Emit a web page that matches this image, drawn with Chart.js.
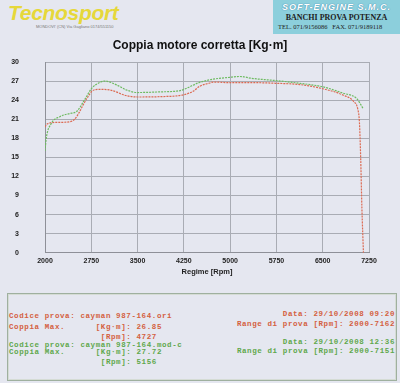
<!DOCTYPE html>
<html><head><meta charset="utf-8">
<script src="https://cdn.jsdelivr.net/npm/chart.js@4/dist/chart.umd.min.js"></script>
<style>
html,body{margin:0;padding:0;}
body{width:400px;height:383px;background:#e5e7f0;position:relative;overflow:hidden;font-family:"Liberation Sans",Arial,sans-serif;}
#c{position:absolute;left:0;top:0;}
.logo{position:absolute;left:8px;top:1px;font:italic bold 21px "Liberation Sans",Arial,sans-serif;color:#e6d83a;letter-spacing:-0.3px;}
.logosub{position:absolute;left:36px;top:24px;font:4px "Liberation Sans",Arial;color:#777;white-space:nowrap;}
.se{position:absolute;left:273px;top:0;width:127px;height:34px;background:#8ccfdc;}
.se1{position:absolute;left:0;width:127px;top:2px;text-align:center;font:italic bold 9px "Liberation Sans",Arial;color:#fff;letter-spacing:1px;text-shadow:0 0 1px #4a8fb0,0 0 1px #4a8fb0;}
.se2{position:absolute;left:0;width:127px;top:13px;text-align:center;font:bold 8px "Liberation Serif","Times New Roman",serif;color:#222;}
.se3{position:absolute;left:5px;top:23px;font:6.5px "Liberation Serif","Times New Roman",serif;color:#222;white-space:nowrap;}
.box{position:absolute;left:7px;top:293px;width:388px;height:86px;border:1px solid #9fb09f;box-shadow:inset 0 0 0 1px #d5dcd5;}
.t{position:absolute;font:bold 7.5px "Liberation Mono","Courier New",monospace;line-height:8px;letter-spacing:0.6px;white-space:pre;}
.r{color:#d4603e;} .g{color:#5fa84c;}
.ra{text-align:right;right:5px;}
</style></head>
<body>
<div class="logo">Tecnosport</div>
<div class="logosub">MONDOVI' (CN) Via Gagliano 0174/551150</div>
<div class="se"><div class="se1">SOFT-ENGINE S.M.C.</div><div class="se2">BANCHI PROVA POTENZA</div><div class="se3">TEL. 071/9156086 &nbsp; FAX. 071/9189118</div></div>
<canvas id="c" width="400" height="283"></canvas>
<div class="box"></div>
<div class="t r" style="left:9px;top:312px">Codice prova: cayman 987-164.ori</div>
<div class="t r" style="left:9px;top:322.5px">Coppia Max.      [Kg·m]: 26.85</div>
<div class="t r" style="left:9px;top:333px">                  [Rpm]: 4727</div>
<div class="t g" style="left:9px;top:340.5px">Codice prova: cayman 987-164.mod-c</div>
<div class="t g" style="left:9px;top:347.5px">Coppia Max.      [Kg·m]: 27.72</div>
<div class="t g" style="left:9px;top:357.5px">                  [Rpm]: 5156</div>
<div class="t r ra" style="top:310.3px">Data: 29/10/2008 09:20</div>
<div class="t r ra" style="top:320px">Range di prova [Rpm]: 2000-7162</div>
<div class="t g ra" style="top:337.7px">Data: 29/10/2008 12:36</div>
<div class="t g ra" style="top:347px">Range di prova [Rpm]: 2000-7151</div>
<script>
const chartTitle = "Coppia motore corretta [Kg·m]";
const xTitle = "Regime [Rpm]";
const xTickValues = [2000, 2750, 3500, 4250, 5000, 5750, 6500, 7250];
const yTickValues = [0, 3, 6, 9, 12, 15, 18, 21, 24, 27, 30];

const oriName = "cayman 987-164.ori";
const oriRpm = [2000, 2040, 2190, 2400, 2480, 2550, 2620, 2700, 2760, 2860, 3050, 3320, 3500, 3860, 4250, 4400, 4510, 4670, 4727, 5000, 5400, 5750, 6130, 6500, 6830, 7000, 7070, 7095, 7115, 7135, 7160];
const oriTorque = [19.8, 20.3, 20.5, 20.6, 21.0, 22.0, 23.3, 24.6, 25.4, 25.7, 25.6, 24.7, 24.5, 24.55, 24.85, 25.4, 26.2, 26.7, 26.85, 26.75, 26.75, 26.65, 26.45, 25.8, 24.8, 23.8, 22.5, 20.5, 15.0, 7.0, 0];

const modName = "cayman 987-164.mod-c";
const modRpm = [2000, 2020, 2100, 2240, 2400, 2510, 2650, 2760, 2890, 2970, 3160, 3320, 3500, 3860, 4190, 4300, 4480, 4670, 5000, 5156, 5373, 5750, 6130, 6500, 6830, 7050, 7151];
const modTorque = [16.0, 18.0, 20.3, 21.4, 21.9, 22.2, 24.2, 25.9, 26.8, 27.0, 26.4, 25.6, 25.2, 25.3, 25.5, 25.9, 26.7, 27.2, 27.6, 27.72, 27.4, 27.07, 26.65, 26.1, 25.1, 24.25, 22.75];

const toPts = (xs, ys) => xs.map((x, i) => ({x: x, y: ys[i]}));

new Chart(document.getElementById('c'), {
  type: 'line',
  data: {
    datasets: [
      {label: modName, data: toPts(modRpm, modTorque), borderColor: '#6fbb62', borderWidth: 1.2, borderDash: [2, 1], pointRadius: 0, cubicInterpolationMode: 'monotone', fill: false},
      {label: oriName, data: toPts(oriRpm, oriTorque), borderColor: '#dc6a52', borderWidth: 1.2, borderDash: [2, 1], pointRadius: 0, cubicInterpolationMode: 'monotone', fill: false}
    ]
  },
  options: {
    responsive: false,
    animation: false,
    layout: {padding: {left: 0, right: 0, top: 0, bottom: 0}},
    plugins: {
      legend: {display: false},
      tooltip: {enabled: false},
      title: {display: true, text: chartTitle, color: '#111', font: {family: 'Liberation Sans', size: 12, weight: 'bold'}, padding: {top: 38, bottom: 9.6}}
    },
    scales: {
      x: {
        type: 'linear', min: 2000, max: 7250,
        afterBuildTicks: s => { s.ticks = xTickValues.map(v => ({value: v})); },
        afterFit: s => { s.height = 26; },
        ticks: {color: '#222', font: {family: 'Liberation Sans', size: 7, weight: 'bold'}, padding: 4, maxRotation: 0, autoSkip: false, callback: v => String(v)},
        grid: {color: '#a9acb4', lineWidth: 1, drawTicks: false},
        border: {color: '#8e9098', width: 1},
        title: {display: true, text: xTitle, color: '#222', font: {family: 'Liberation Sans', size: 7.5, weight: 'bold'}, padding: {top: 2, bottom: 2.5}}
      },
      y: {
        min: 0, max: 30,
        afterBuildTicks: s => { s.ticks = yTickValues.map(v => ({value: v})); },
        afterFit: s => { s.width = 45; },
        ticks: {color: '#222', font: {family: 'Liberation Sans', size: 7, weight: 'bold'}, padding: 26, autoSkip: false},
        grid: {color: '#a9acb4', lineWidth: 1, drawTicks: false},
        border: {color: '#8e9098', width: 1}
      },
      y2: {
        position: 'right', min: 0, max: 30, display: true,
        afterFit: s => { s.width = 31; },
        ticks: {display: false},
        grid: {display: false, drawOnChartArea: false},
        border: {display: false}
      }
    }
  }
});
</script>
</body></html>
